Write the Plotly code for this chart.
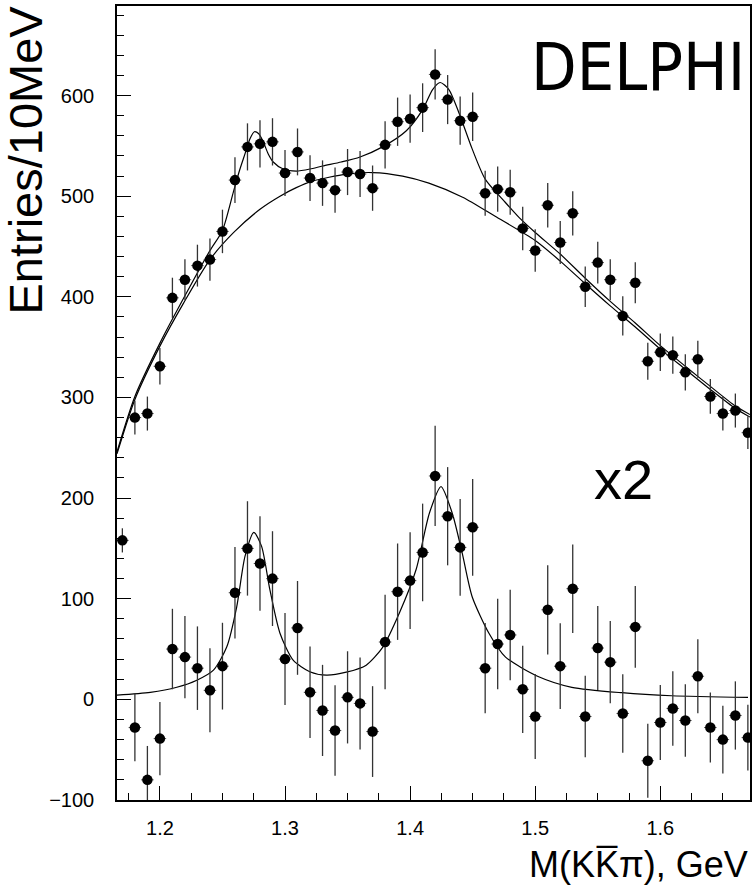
import plotly.graph_objects as go

# ---------------- data ----------------
mass_top = [1.18, 1.19, 1.20, 1.21, 1.22, 1.23, 1.24, 1.25, 1.26, 1.27, 1.28, 1.29, 1.30,
            1.31, 1.32, 1.33, 1.34, 1.35, 1.36, 1.37, 1.38, 1.39, 1.40, 1.41, 1.42, 1.43,
            1.44, 1.45, 1.46, 1.47, 1.48, 1.49, 1.50, 1.51, 1.52, 1.53, 1.54, 1.55, 1.56,
            1.57, 1.58, 1.59, 1.60, 1.61, 1.62, 1.63, 1.64, 1.65, 1.66, 1.67]
entries_top = [280, 284, 331, 399, 417, 431, 437, 465, 516, 549, 552, 554, 523,
               544, 518, 513, 506, 524, 522, 508, 551, 574, 577, 588, 621, 596,
               575, 579, 503, 507, 504, 468, 446, 491, 454, 483, 410, 434, 417,
               381, 414, 336, 345, 342, 325, 338, 301, 284, 287, 265]
err_top = [16.7, 16.9, 18.2, 20.0, 20.4, 20.8, 20.9, 21.6, 22.7, 23.4, 23.5, 23.5, 22.9,
           23.3, 22.8, 22.6, 22.5, 22.9, 22.8, 22.5, 23.5, 24.0, 24.0, 24.2, 24.9, 24.4,
           24.0, 24.1, 22.4, 22.5, 22.4, 21.6, 21.1, 22.2, 21.3, 22.0, 20.2, 20.8, 20.4,
           19.5, 20.3, 18.3, 18.6, 18.5, 18.0, 18.4, 17.3, 16.9, 16.9, 16.3]

mass_low = [1.17] + mass_top
entries_low = [158, -28, -80, -39, 50, 42, 31, 9, 33, 106, 150, 135, 120, 40,
               71, 7, -11, -31, 2, -4, -32, 57, 107, 118, 146, 222, 182,
               151, 171, 31, 55, 64, 10, -17, 89, 33, 110, -17, 51, 37,
               -14, 72, -61, -23, -9, -21, 23, -28, -40, -16, -38]
err_low = [12, 33.5, 33.7, 36.4, 40.0, 40.8, 41.5, 41.8, 43.1, 45.4, 46.9, 47.0, 47.1, 45.7,
           46.6, 45.5, 45.3, 45.0, 45.8, 45.7, 45.1, 46.9, 47.9, 48.0, 48.5, 49.8, 48.8,
           48.0, 48.1, 44.9, 45.0, 44.9, 43.3, 42.2, 44.3, 42.6, 44.0, 40.5, 41.7, 40.8,
           39.0, 40.7, 36.7, 37.2, 37.0, 36.1, 36.8, 34.7, 33.7, 33.9, 32.6]
half_bin = 0.005

# fitted curves
fit_total_x = [1.1657, 1.18, 1.20, 1.22, 1.24, 1.25, 1.2587, 1.2635, 1.268, 1.272, 1.2755,
               1.279, 1.2826, 1.2866, 1.2906, 1.2986, 1.309, 1.32, 1.33, 1.345, 1.36, 1.378,
               1.397, 1.41, 1.418, 1.424, 1.431, 1.439, 1.4496, 1.46, 1.476, 1.487, 1.50,
               1.52, 1.54, 1.56, 1.58, 1.60, 1.62, 1.64, 1.66, 1.6717]
fit_total_y = [246, 301, 354, 401, 446, 466, 504, 525, 542, 557, 564,
               562, 554, 542, 534, 527, 525, 527, 530, 534, 539, 549,
               565, 586, 606, 613, 606, 583, 547, 517, 494, 479, 464,
               442.5, 418.5, 395.5, 374, 351.5, 331, 311, 291.5, 283]

fit_bg_x = [1.1657, 1.18, 1.20, 1.219, 1.24, 1.259, 1.28, 1.296, 1.309, 1.322, 1.349,
            1.37, 1.394, 1.415, 1.442, 1.468, 1.50, 1.52, 1.54, 1.56, 1.58, 1.60, 1.62,
            1.64, 1.66, 1.6717]
fit_bg_y = [244, 298, 351, 394, 437, 464, 487, 500, 508.5, 515, 522,
            523.5, 520, 513, 499, 480, 456, 435.5, 413, 391, 370, 348, 328,
            308, 289, 280.5]

fit_sig_x = [1.1657, 1.1923, 1.2135, 1.2295, 1.2428, 1.2534, 1.2614, 1.268, 1.2751, 1.2813,
             1.2879, 1.2959, 1.3065, 1.3198, 1.3331, 1.349, 1.3649, 1.3782, 1.3915, 1.4048,
             1.4154, 1.4247, 1.4337, 1.4417, 1.4496, 1.4629, 1.4763, 1.5028, 1.5293, 1.5692,
             1.609, 1.6701]
fit_sig_y = [4.3, 7, 12, 19, 29, 52, 92, 142, 166, 152,
             109, 66, 39, 27.5, 24, 27, 34, 52, 86, 129,
             185, 211.5, 185, 145, 102, 66, 42, 22.5, 12, 6.6,
             3.6, 2]

x_ticks = [1.2, 1.3, 1.4, 1.5, 1.6]
x_ticktext = ["1.2", "1.3", "1.4", "1.5", "1.6"]
y_ticks = [-100, 0, 100, 200, 300, 400, 500, 600]
y_ticktext = ["\u2212100", "0", "100", "200", "300", "400", "500", "600"]

# ---------------- figure ----------------
fig = go.Figure()

curve_style = dict(color="black", width=1.2, shape="spline", smoothing=0.7)
fig.add_trace(go.Scatter(x=fit_bg_x, y=fit_bg_y, mode="lines", line=curve_style,
                         hoverinfo="skip", showlegend=False))
fig.add_trace(go.Scatter(x=fit_total_x, y=fit_total_y, mode="lines", line=curve_style,
                         hoverinfo="skip", showlegend=False))
fig.add_trace(go.Scatter(x=fit_sig_x, y=fit_sig_y, mode="lines", line=curve_style,
                         hoverinfo="skip", showlegend=False))

marker_style = dict(color="black", size=10.5, symbol="circle")
fig.add_trace(go.Scatter(
    x=mass_top, y=entries_top, mode="markers", marker=marker_style, showlegend=False,
    error_y=dict(type="data", array=err_top, color="#333333", thickness=1.3, width=0),
    error_x=dict(type="constant", value=half_bin, color="#555555", thickness=1, width=0)))
fig.add_trace(go.Scatter(
    x=mass_low, y=entries_low, mode="markers", marker=marker_style, showlegend=False,
    error_y=dict(type="data", array=err_low, color="#333333", thickness=1.3, width=0),
    error_x=dict(type="constant", value=half_bin, color="#555555", thickness=1, width=0)))

tickfont = dict(family="Liberation Sans, Arial, sans-serif", size=20, color="black")

fig.update_xaxes(
    range=[1.1657, 1.6717], tickvals=x_ticks, ticktext=x_ticktext,
    ticks="inside", ticklen=14, tickwidth=1.3, tickcolor="black",
    minor=dict(dtick=0.025, tick0=1.2, ticks="inside", ticklen=7, tickwidth=1.3,
               tickcolor="black", showgrid=False),
    showline=True, linewidth=1.6, linecolor="black", mirror=True,
    showgrid=False, zeroline=False, tickfont=tickfont, ticklabelstandoff=9)
fig.update_yaxes(
    range=[-100, 689], tickvals=y_ticks, ticktext=y_ticktext,
    ticks="inside", ticklen=14, tickwidth=1.3, tickcolor="black",
    minor=dict(dtick=20, tick0=0, ticks="inside", ticklen=7, tickwidth=1.3,
               tickcolor="black", showgrid=False),
    showline=True, linewidth=1.6, linecolor="black", mirror=True,
    showgrid=False, zeroline=False, tickfont=tickfont, ticklabelstandoff=17)

fig.add_annotation(text="Entries/10MeV", xref="paper", yref="paper",
                   x=-0.1445, y=0.806, xanchor="center", yanchor="middle",
                   textangle=-90, showarrow=False,
                   font=dict(family="Liberation Sans, Arial, sans-serif", size=47, color="black"))
fig.add_annotation(text="M(KK\u0305\u03c0), GeV", xref="paper", yref="paper",
                   x=1.0, y=-0.0525, xanchor="right", yanchor="top", showarrow=False,
                   font=dict(family="Liberation Sans, Arial, sans-serif", size=36, color="black"))
fig.add_annotation(text="DELPHI", xref="paper", yref="paper",
                   x=0.8228, y=0.973, xanchor="center", yanchor="top", showarrow=False,
                   font=dict(family="DejaVu Sans Condensed, Liberation Sans, sans-serif",
                             size=66, color="black"))
fig.add_annotation(text="x2", xref="paper", yref="paper",
                   x=0.8008, y=0.4035, xanchor="center", yanchor="middle", showarrow=False,
                   font=dict(family="Liberation Sans, Arial, sans-serif",
                             size=56, color="black"))

fig.update_layout(
    width=755, height=885,
    margin=dict(l=117, r=3, t=6, b=85),
    paper_bgcolor="white", plot_bgcolor="white",
    showlegend=False,
)

fig.write_html("out.html")
